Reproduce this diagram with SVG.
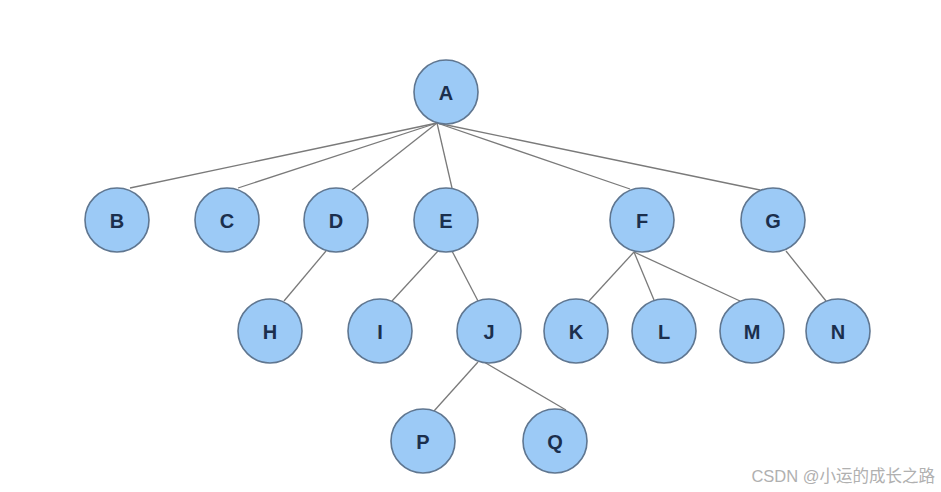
<svg xmlns="http://www.w3.org/2000/svg" width="941" height="492" viewBox="0 0 941 492">
<style>
.n circle{fill:#9ccaf6;stroke:#5f7690;stroke-width:1.6}
.n text{font-family:"Liberation Sans",Arial,sans-serif;font-size:20px;font-weight:bold;fill:#1b2f4d;text-anchor:middle;dominant-baseline:central}
.e line{stroke:#7a7a7a;stroke-width:1.3}
.wm{font-family:"Liberation Sans","Noto Sans CJK SC",sans-serif;font-size:16.5px;fill:#b0b0b0;text-anchor:end}
</style>
<rect width="941" height="492" fill="#ffffff"/>
<g id="edges" class="e">
<line x1="437" y1="123" x2="130" y2="188"/>
<line x1="437" y1="123" x2="238" y2="188"/>
<line x1="437" y1="123" x2="352" y2="190"/>
<line x1="437" y1="123" x2="452" y2="188"/>
<line x1="437" y1="123" x2="630" y2="189"/>
<line x1="437" y1="123" x2="760" y2="190"/>
<line x1="326" y1="251" x2="284" y2="301"/>
<line x1="438" y1="251" x2="392" y2="301"/>
<line x1="452" y1="251" x2="478" y2="301"/>
<line x1="634" y1="252" x2="589" y2="301"/>
<line x1="634" y1="252" x2="654" y2="300"/>
<line x1="634" y1="252" x2="740" y2="301"/>
<line x1="786" y1="251" x2="826" y2="301"/>
<line x1="478" y1="362" x2="434" y2="411"/>
<line x1="484" y1="362" x2="566" y2="410"/>
</g>
<g id="A" class="n"><circle cx="446" cy="92" r="32"/><text x="446" y="93">A</text></g>
<g id="B" class="n"><circle cx="117" cy="220" r="32"/><text x="117" y="221">B</text></g>
<g id="C" class="n"><circle cx="227" cy="220" r="32"/><text x="227" y="221">C</text></g>
<g id="D" class="n"><circle cx="336" cy="220" r="32"/><text x="336" y="221">D</text></g>
<g id="E" class="n"><circle cx="446" cy="220" r="32"/><text x="446" y="221">E</text></g>
<g id="F" class="n"><circle cx="642" cy="220" r="32"/><text x="642" y="221">F</text></g>
<g id="G" class="n"><circle cx="773" cy="220" r="32"/><text x="773" y="221">G</text></g>
<g id="H" class="n"><circle cx="270" cy="331" r="32"/><text x="270" y="332">H</text></g>
<g id="I" class="n"><circle cx="380" cy="331" r="32"/><text x="380" y="332">I</text></g>
<g id="J" class="n"><circle cx="489" cy="331" r="32"/><text x="489" y="332">J</text></g>
<g id="K" class="n"><circle cx="576" cy="331" r="32"/><text x="576" y="332">K</text></g>
<g id="L" class="n"><circle cx="664" cy="331" r="32"/><text x="664" y="332">L</text></g>
<g id="M" class="n"><circle cx="752" cy="331" r="32"/><text x="752" y="332">M</text></g>
<g id="N" class="n"><circle cx="838" cy="331" r="32"/><text x="838" y="332">N</text></g>
<g id="P" class="n"><circle cx="423" cy="441" r="32"/><text x="423" y="442">P</text></g>
<g id="Q" class="n"><circle cx="555" cy="441" r="32"/><text x="555" y="442">Q</text></g>
<text class="wm" x="935" y="482">CSDN @小运的成长之路</text>
</svg>
